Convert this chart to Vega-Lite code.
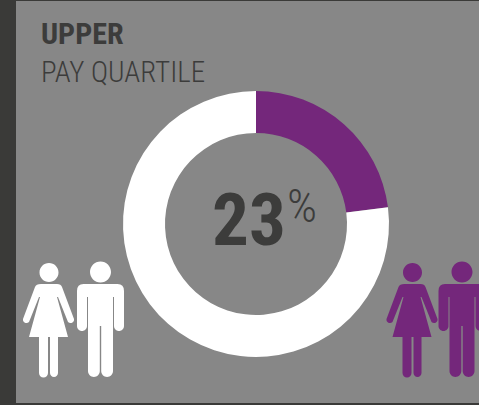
{
"$schema":"https://vega.github.io/schema/vega-lite/v6.json",
"width":479,"height":405,"padding":0,"autosize":{"type":"none"},
"background":"#3a3a38",
"config":{"view":{"stroke":null}},
"data":{"values":[{"group":"Women","share":23},{"group":"Men","share":77}]},
"layer":[
{"data":{"values":[{"panel":"background"}]},"mark":{"type":"rect","fill":"#878787","x":16,"x2":479,"y":1,"y2":403}},
{"mark":{"type":"arc","x":256,"y":224,"innerRadius":91,"outerRadius":133},
 "encoding":{"theta":{"field":"share","type":"quantitative","stack":true,"scale":{"domain":[0,100]}},
 "order":{"field":"share","type":"quantitative"},
 "color":{"field":"group","type":"nominal","scale":{"domain":["Women","Men"],"range":["#74277b","#ffffff"]},"legend":null}}},
{"data":{"values":[{"label":"UPPER"}]},"mark":{"type":"text","x":41,"y":44,"align":"left","baseline":"alphabetic","font":"Roboto Condensed, Roboto","fontWeight":"bold","fontSize":30,"color":"#3c3c3b"},"encoding":{"text":{"field":"label"}}},
{"data":{"values":[{"label":"PAY QUARTILE"}]},"mark":{"type":"text","x":41,"y":82,"align":"left","baseline":"alphabetic","font":"Roboto Condensed, Roboto","fontWeight":300,"fontSize":29,"color":"#3c3c3b"},"encoding":{"text":{"field":"label"}}},
{"data":{"values":[{"label":"23"}]},"mark":{"type":"text","x":212,"y":245,"align":"left","baseline":"alphabetic","font":"Roboto Condensed, Roboto","fontWeight":"bold","fontSize":73,"color":"#3c3c3b"},"encoding":{"text":{"field":"label"}}},
{"data":{"values":[{"label":"%"}]},"mark":{"type":"text","x":287,"y":222,"align":"left","baseline":"alphabetic","font":"Roboto Condensed, Roboto","fontWeight":300,"fontSize":47,"color":"#3c3c3b"},"encoding":{"text":{"field":"label"}}},
{"data":{"values":[{"figure":"woman"}]},"mark":{"type":"point","x":49,"y":325,"size":4,"filled":true,"opacity":1,"color":"#ffffff","shape":"M-9.5,-52.5 a9.5,9.5 0 1,0 19,0 a9.5,9.5 0 1,0 -19,0 Z M-8,-41 L8,-41 Q12,-41 13,-38 L25,-6 A3.5,3.5 0 0 1 19,-3 L9,-28 L8,-28 L19,12 L9,12 L9,48 A4,4 0 0 1 1,48 L1,12 L-1,12 L-1,48 A4.5,4.5 0 0 1 -10,48 L-10,12 L-20,12 L-9,-28 L-10,-28 L-20,-3 A3.5,3.5 0 0 1 -26,-6 L-14,-38 Q-13,-41 -8,-41 Z"}},
{"data":{"values":[{"figure":"man"}]},"mark":{"type":"point","x":100.5,"y":325,"size":4,"filled":true,"opacity":1,"color":"#ffffff","shape":"M-10.5,-53 a10.5,10.5 0 1,0 21,0 a10.5,10.5 0 1,0 -21,0 Z M-17,-41 L17,-41 Q23.5,-41 23.5,-34 L23.5,1 A5,5 0 0 1 13.5,1 L13.5,-28 L12.5,-28 L12.5,46 A5.9,5.9 0 0 1 0.7,46 L0.7,1 L-0.7,1 L-0.7,46 A5.9,5.9 0 0 1 -12.5,46 L-12.5,-28 L-13.5,-28 L-13.5,1 A5,5 0 0 1 -23.5,1 L-23.5,-34 Q-23.5,-41 -17,-41 Z"}},
{"data":{"values":[{"figure":"woman"}]},"mark":{"type":"point","x":412.5,"y":325,"size":4,"filled":true,"opacity":1,"color":"#74277b","shape":"M-9.5,-52.5 a9.5,9.5 0 1,0 19,0 a9.5,9.5 0 1,0 -19,0 Z M-8,-41 L8,-41 Q12,-41 13,-38 L25,-6 A3.5,3.5 0 0 1 19,-3 L9,-28 L8,-28 L19,12 L9,12 L9,48 A4,4 0 0 1 1,48 L1,12 L-1,12 L-1,48 A4.5,4.5 0 0 1 -10,48 L-10,12 L-20,12 L-9,-28 L-10,-28 L-20,-3 A3.5,3.5 0 0 1 -26,-6 L-14,-38 Q-13,-41 -8,-41 Z"}},
{"data":{"values":[{"figure":"man"}]},"mark":{"type":"point","x":462,"y":325,"size":4,"filled":true,"opacity":1,"color":"#74277b","shape":"M-10.5,-53 a10.5,10.5 0 1,0 21,0 a10.5,10.5 0 1,0 -21,0 Z M-17,-41 L17,-41 Q23.5,-41 23.5,-34 L23.5,1 A5,5 0 0 1 13.5,1 L13.5,-28 L12.5,-28 L12.5,46 A5.9,5.9 0 0 1 0.7,46 L0.7,1 L-0.7,1 L-0.7,46 A5.9,5.9 0 0 1 -12.5,46 L-12.5,-28 L-13.5,-28 L-13.5,1 A5,5 0 0 1 -23.5,1 L-23.5,-34 Q-23.5,-41 -17,-41 Z"}}
]}
